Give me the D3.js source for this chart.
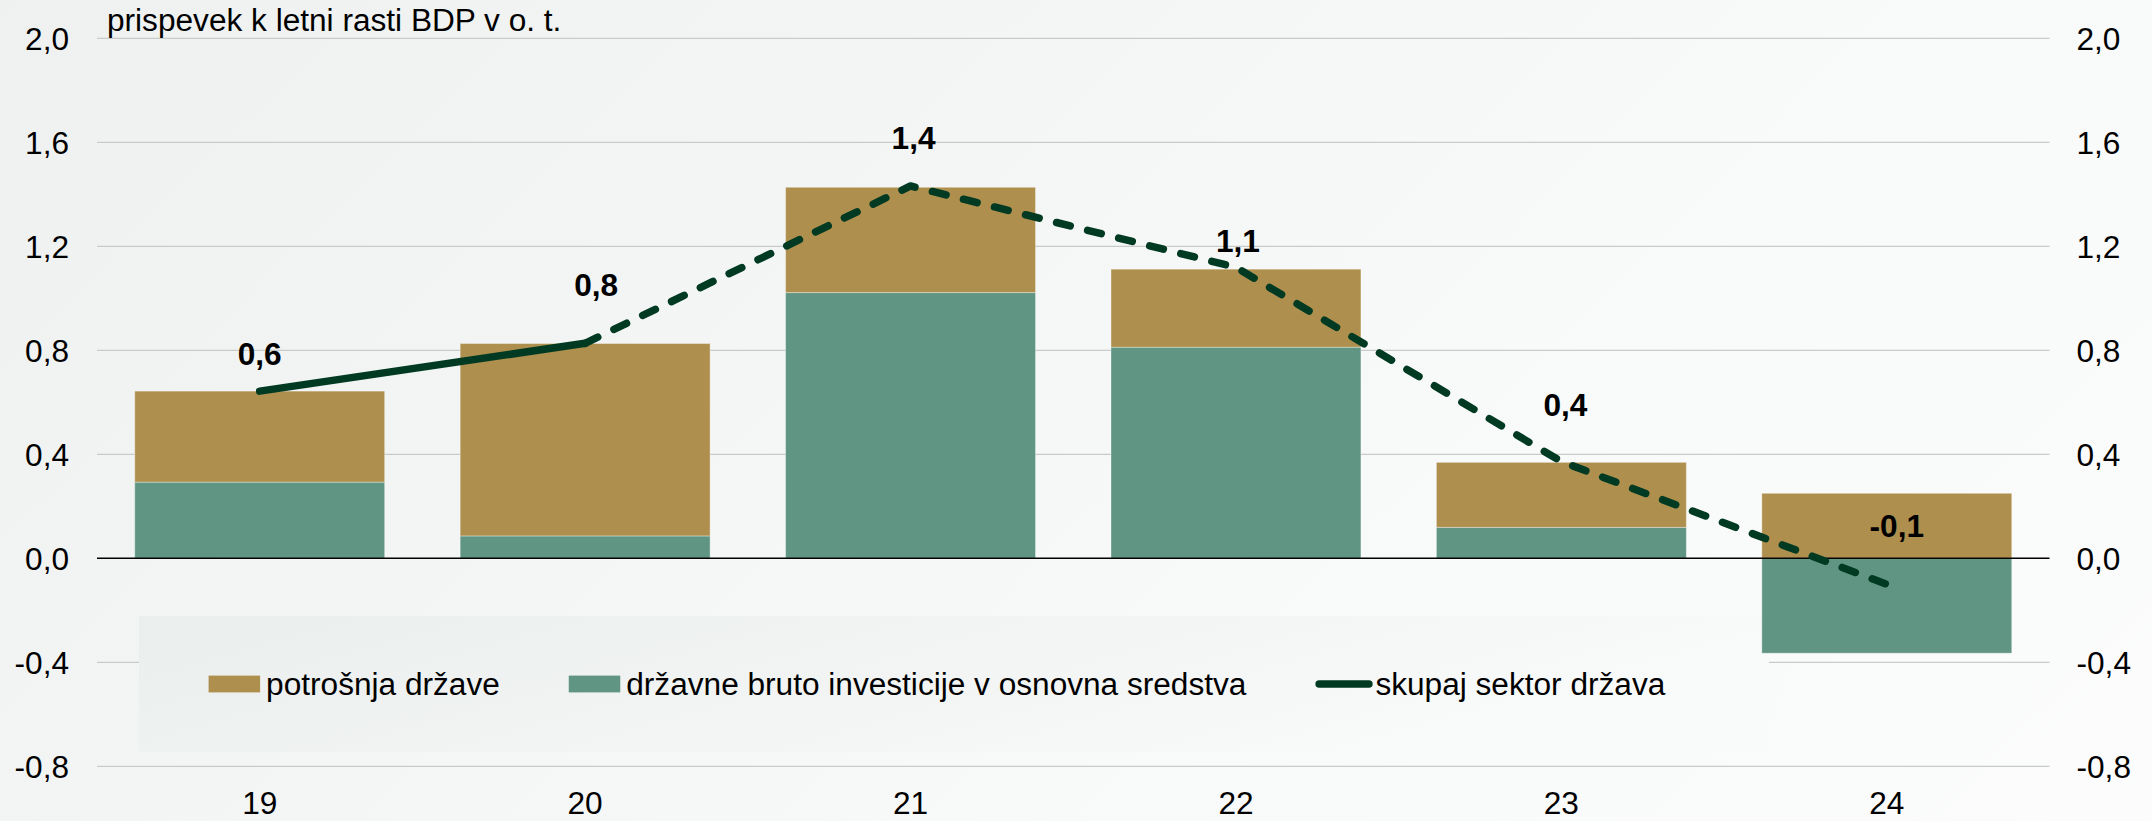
<!DOCTYPE html>
<html>
<head>
<meta charset="utf-8">
<script src="https://cdn.jsdelivr.net/npm/d3@7"></script>
<style>
  html, body { margin: 0; padding: 0; background: #ffffff; }
  svg { display: block; font-family: "Liberation Sans", Arial, sans-serif; }
</style>
</head>
<body>
<svg id="chart" width="2152" height="821"></svg>
<script>
// ---------------- data ----------------
const categories   = ["19", "20", "21", "22", "23", "24"];
const potrosnja    = [0.35, 0.74, 0.405, 0.30, 0.25, 0.25];     // potrošnja države
const investicije  = [0.293, 0.086, 1.022, 0.812, 0.119, -0.365]; // državne bruto investicije
const skupaj       = [0.643, 0.827, 1.432, 1.119, 0.372, -0.10]; // skupaj sektor država
const yTickValues  = [-0.8, -0.4, 0.0, 0.4, 0.8, 1.2, 1.6, 2.0];
const seriesNames  = ["potrošnja države", "državne bruto investicije v osnovna sredstva", "skupaj sektor država"];
const titleText    = "prispevek k letni rasti BDP v o. t.";
// pixel nudges of the value labels relative to their line point (layout only)
const labelOffsets = [[0, -26], [11, -47], [3, -37], [2, -15], [4, -46], [10, -47]];

// ---------------- styles ----------------
const COL_GOLD  = "#AE8F4E";
const COL_GREEN = "#609583";
const COL_LINE  = "#003A22";
const FS = 31;       // font size
const SX = 1.02;     // horizontal stretch of text

const svg = d3.select("#chart");
const W = 2152, H = 821;

// background gradient
const defs = svg.append("defs");
const bg = defs.append("linearGradient").attr("id", "bg")
  .attr("gradientUnits", "userSpaceOnUse")
  .attr("x1", 0).attr("y1", 0).attr("x2", 1700).attr("y2", 1700);
bg.append("stop").attr("offset", 0).attr("stop-color", "#EEF1F0");
bg.append("stop").attr("offset", 0.55).attr("stop-color", "#F8F9F9");
bg.append("stop").attr("offset", 1).attr("stop-color", "#FDFDFD");
svg.append("rect").attr("width", W).attr("height", H).attr("fill", "url(#bg)");

const lg = defs.append("linearGradient").attr("id", "lg")
  .attr("x1", 0).attr("y1", 0).attr("x2", 1).attr("y2", 0.3);
lg.append("stop").attr("offset", 0).attr("stop-color", "#EAEEED");
lg.append("stop").attr("offset", 1).attr("stop-color", "#F9FAFA");

// scales
const x = d3.scaleBand().domain(categories).range([97, 2049.5])
  .paddingInner(0.232).paddingOuter(0.116);
const y = d3.scaleLinear().domain([-0.8, 2.0]).range([766.3, 38.3]);
const fmt = v => d3.format(".1f")(v).replace(".", ",").replace("−", "-");

const [x0, x1] = x.range();

// gridlines
svg.append("g").selectAll("line")
  .data(yTickValues.filter(v => v !== 0))
  .join("line")
  .attr("x1", x0).attr("x2", x1)
  .attr("y1", d => y(d)).attr("y2", d => y(d))
  .attr("stroke", "#C9CACA").attr("stroke-width", 1.3);

// legend background box (sits over the gridlines)
svg.append("rect")
  .attr("x", 139).attr("y", 616).attr("width", 1630).attr("height", 136)
  .attr("fill", "url(#lg)");

// stacked bars
const rows = categories.map((c, i) => ({ cat: c, investicije: investicije[i], potrosnja: potrosnja[i] }));
const stack = d3.stack().keys(["investicije", "potrosnja"]).offset(d3.stackOffsetDiverging);
const stacked = stack(rows);
const colors = { investicije: COL_GREEN, potrosnja: COL_GOLD };

svg.append("g").selectAll("g")
  .data(stacked)
  .join("g")
  .attr("fill", d => colors[d.key])
  .selectAll("rect")
  .data(d => d)
  .join("rect")
  .attr("x", d => x(d.data.cat))
  .attr("width", x.bandwidth())
  .attr("y", d => y(Math.max(d[0], d[1])))
  .attr("height", d => Math.abs(y(d[0]) - y(d[1])))
  .attr("stroke", "rgba(255,255,255,0.35)")
  .attr("stroke-width", 1);

// zero line
svg.append("line")
  .attr("x1", x0).attr("x2", x1)
  .attr("y1", y(0)).attr("y2", y(0))
  .attr("stroke", "#000").attr("stroke-width", 1.6);

// line series: solid first segment, dashed remainder
const pts = categories.map((c, i) => ({ cat: c, v: skupaj[i] }));
const line = d3.line().x(d => x(d.cat) + x.bandwidth() / 2).y(d => y(d.v));
svg.append("path").datum(pts.slice(0, 2)).attr("d", line)
  .attr("fill", "none").attr("stroke", COL_LINE).attr("stroke-width", 7.5)
  .attr("stroke-linecap", "round").attr("stroke-linejoin", "round");
svg.append("path").datum(pts.slice(1)).attr("d", line)
  .attr("fill", "none").attr("stroke", COL_LINE).attr("stroke-width", 7.5)
  .attr("stroke-linecap", "round").attr("stroke-linejoin", "round")
  .attr("stroke-dasharray", "14,18");

// helper for stretched text
function stretched(sel, px, py) {
  return sel.attr("transform", `translate(${px},${py}) scale(${SX},1)`);
}

// value labels
svg.append("g").selectAll("text")
  .data(pts)
  .join("text")
  .each(function (d, i) {
    stretched(d3.select(this),
      x(d.cat) + x.bandwidth() / 2 + labelOffsets[i][0],
      y(d.v) + labelOffsets[i][1]);
  })
  .attr("text-anchor", "middle")
  .attr("font-size", FS).attr("font-weight", "bold").attr("fill", "#000")
  .text(d => fmt(d.v));

// axes
function styleAxis(g) {
  g.select(".domain").remove();
  g.selectAll(".tick line").remove();
  g.selectAll("text")
    .attr("font-size", FS)
    .attr("font-family", "Liberation Sans, Arial, sans-serif")
    .attr("fill", "#000");
}
const leftAxis = svg.append("g").attr("transform", `translate(${x0},0)`)
  .call(d3.axisLeft(y).tickValues(yTickValues).tickSize(0).tickPadding(28).tickFormat(fmt));
styleAxis(leftAxis);
leftAxis.selectAll("text").attr("dy", "0.35em")
  .attr("x", -28 / SX).attr("transform", `scale(${SX},1)`);

const rightAxis = svg.append("g").attr("transform", `translate(${x1},0)`)
  .call(d3.axisRight(y).tickValues(yTickValues).tickSize(0).tickPadding(27).tickFormat(fmt));
styleAxis(rightAxis);
rightAxis.selectAll("text").attr("dy", "0.35em")
  .attr("x", 27 / SX).attr("transform", `scale(${SX},1)`);

const bottomAxis = svg.append("g").attr("transform", `translate(0,${y(-0.8)})`)
  .call(d3.axisBottom(x).tickSize(0).tickPadding(26));
styleAxis(bottomAxis);
bottomAxis.selectAll("text").attr("transform", `scale(${SX},1)`)
  .attr("x", function () { return 0; });
bottomAxis.selectAll(".tick").each(function () {
  // keep the tick label centred after stretching
  const t = d3.select(this).select("text");
  t.attr("transform", `scale(${SX},1)`);
});

// title
stretched(svg.append("text"), 107, 31)
  .attr("font-size", FS).attr("fill", "#000")
  .text(titleText);

// legend
const legend = svg.append("g");
let lx = 208.6;
const ly = 684;
seriesNames.forEach((name, i) => {
  if (i < 2) {
    legend.append("rect")
      .attr("x", lx).attr("y", ly - 8.4).attr("width", 51.5).attr("height", 16.8)
      .attr("fill", i === 0 ? COL_GOLD : COL_GREEN);
    lx += 57.5;
  } else {
    legend.append("line")
      .attr("x1", lx + 3.7).attr("x2", lx + 53.5)
      .attr("y1", ly).attr("y2", ly)
      .attr("stroke", COL_LINE).attr("stroke-width", 7.5).attr("stroke-linecap", "round");
    lx += 60;
  }
  const t = stretched(legend.append("text"), lx, ly + 10.5)
    .attr("font-size", FS).attr("fill", "#000").text(name);
  lx += t.node().getComputedTextLength() * SX + 69;
});
</script>
</body>
</html>
